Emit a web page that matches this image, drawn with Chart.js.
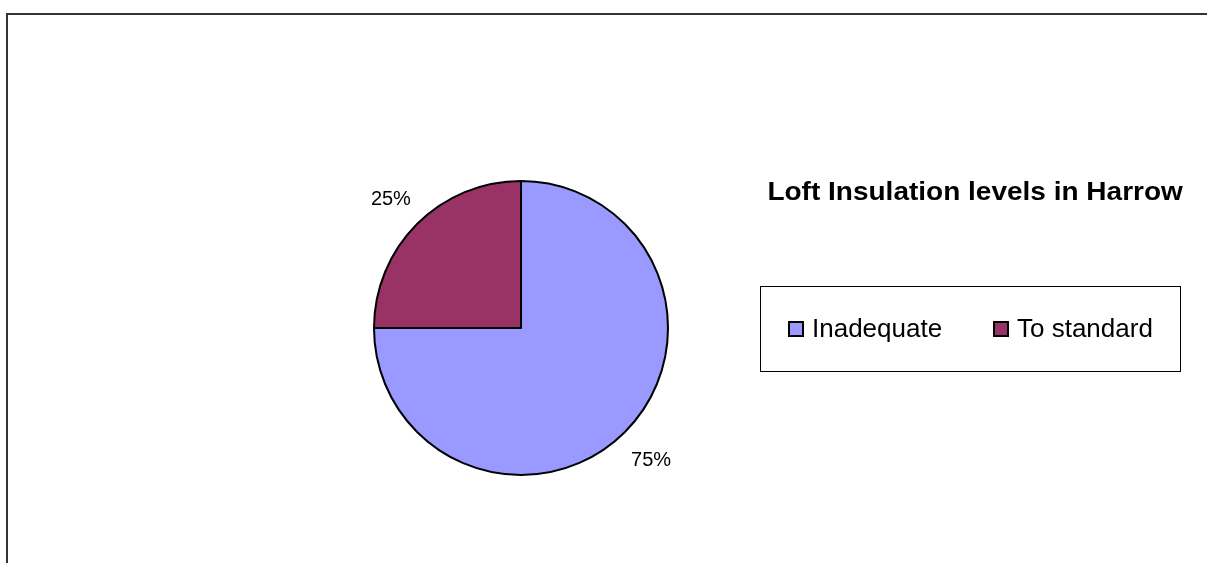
<!DOCTYPE html>
<html>
<head>
<meta charset="utf-8">
<script src="https://cdn.jsdelivr.net/npm/chart.js@4.4.1/dist/chart.umd.min.js"></script>
<style>
    html, body { margin: 0; padding: 0; background: #fff; overflow: hidden; }
    body { width: 1207px; height: 563px; position: relative; font-family: "Liberation Sans", Arial, sans-serif; }
    #frame { position: absolute; left: 6px; top: 13px; width: 1220px; height: 600px; border: 2px solid #333; box-sizing: border-box; }
    #chart-wrap { position: absolute; left: 0; top: 0; width: 1207px; height: 563px; }
    #title { position: absolute; left: 760px; top: 177px; width: 430px; text-align: center; font-weight: bold; font-size: 25px; color: #000; white-space: nowrap; transform: scaleX(1.12); transform-origin: 214px 0; }
    #legend { position: absolute; left: 760px; top: 286px; width: 421px; height: 86px; border: 1px solid #000; box-sizing: border-box; font-size: 25px; color: #000; }
    .item { position: absolute; top: 27px; display: flex; align-items: center; white-space: nowrap; }
    .swatch { width: 12px; height: 12px; border: 2px solid #000; margin-right: 8px; }
    .label { display: inline-block; transform: scaleX(1.04); transform-origin: 0 0; }
</style>
</head>
<body>
<div id="frame"></div>
<div id="chart-wrap"><canvas id="pie-chart" width="1207" height="563"></canvas></div>
<div id="title"></div>
<div id="legend"></div>
<script>
const chartTitle = 'Loft Insulation levels in Harrow';
const categories = ['Inadequate', 'To standard'];
const shares = [75, 25];
const sliceColors = ['#9999FF', '#993366'];
const legendLeft = [27, 232];

// percentage labels outside each slice
const pctLabels = {
    id: 'pctLabels',
    afterDatasetsDraw(chart) {
        const ctx = chart.ctx;
        const total = shares.reduce((a, b) => a + b, 0);
        chart.getDatasetMeta(0).data.forEach((arc, i) => {
            const mid = (arc.startAngle + arc.endAngle) / 2;
            const r = arc.outerRadius + 37;
            ctx.save();
            ctx.font = '20px "Liberation Sans", Arial, sans-serif';
            ctx.fillStyle = '#000';
            ctx.textAlign = 'center';
            ctx.textBaseline = 'middle';
            ctx.fillText(Math.round(shares[i] / total * 100) + '%', arc.x + Math.cos(mid) * r, arc.y + Math.sin(mid) * r + 2);
            ctx.restore();
        });
    }
};

new Chart(document.getElementById('pie-chart'), {
    type: 'pie',
    data: {
        labels: categories,
        datasets: [{
            data: shares,
            backgroundColor: sliceColors,
            borderColor: '#000',
            borderWidth: 2
        }]
    },
    options: {
        responsive: false,
        animation: false,
        radius: 147,
        layout: { padding: { left: 300, right: 465, top: 150, bottom: 57 } },
        plugins: {
            legend: { display: false },
            tooltip: { enabled: false }
        }
    },
    plugins: [pctLabels]
});

document.getElementById('title').textContent = chartTitle;
document.getElementById('legend').innerHTML = categories.map((c, i) => `
    <div class="item" style="left: ${legendLeft[i]}px"><span class="swatch" style="background-color: ${sliceColors[i]}"></span><span class="label">${c}</span></div>
`).join('');
</script>
</body>
</html>
